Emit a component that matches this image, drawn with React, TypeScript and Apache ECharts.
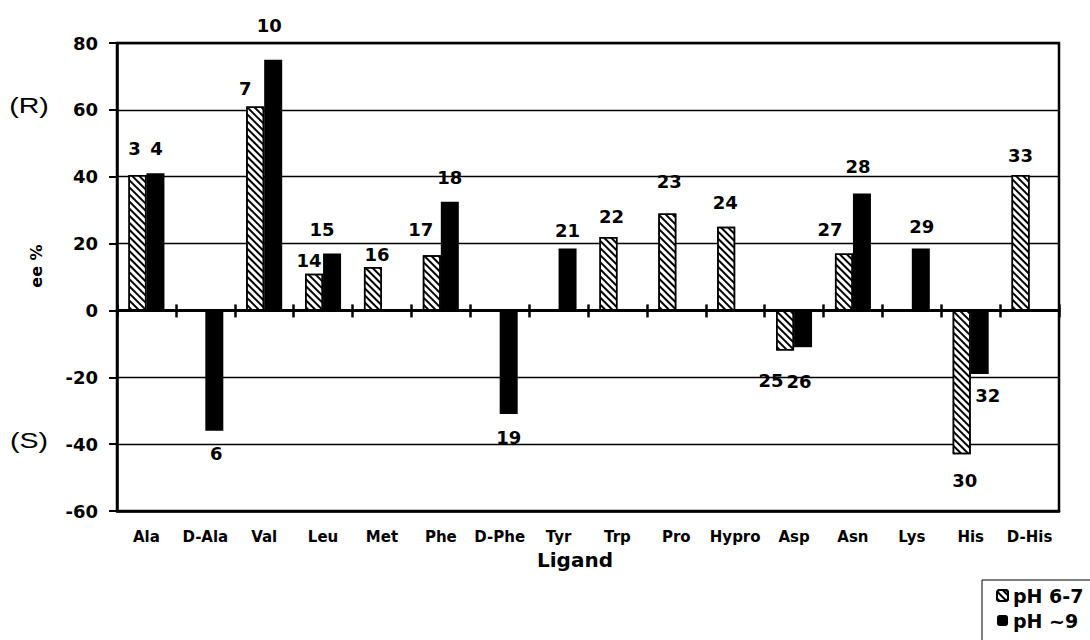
import React, { useEffect, useRef } from "react";
import * as echarts from "echarts";

const categories = ["Ala", "D-Ala", "Val", "Leu", "Met", "Phe", "D-Phe", "Tyr", "Trp", "Pro", "Hypro", "Asp", "Asn", "Lys", "His", "D-His"];
const ph67Values: (number | null)[] = [40.5, null, 61, 11, 13, 16.5, null, null, 22, 29, 25, -12, 17, null, -43, 40.5];
const ph9Values: (number | null)[] = [41, -36, 75, 17, null, 32.5, -31, 18.5, null, null, null, -11, 35, 18.5, -19, null];
const ph67Labels = ["3", "", "7", "14", "16", "17", "", "", "22", "23", "24", "25", "27", "", "30", "33"];
const ph9Labels = ["4", "6", "10", "15", "", "18", "19", "21", "", "", "", "26", "28", "29", "32", ""];
const yTicks = { min: -60, max: 80, interval: 20 };
const seriesNames = ["pH 6-7", "pH ~9"];

// label nudges (style only)
const ph67Offsets: ([number, number] | null)[] = [[-3, -13], null, [-10, -4], [-5, 1], [4, 2], [-11, -12], null, null, [3, -6], [2, -18], [-1, -10], [-14, 16], [-14, -10], null, [3, 12], [0, -6]];
const ph9Offsets: ([number, number] | null)[] = [[1, -11], [2, 9], [-4, -20], [-10, -10], null, [0, -10], [0, 9], [0, -4], null, null, null, [-4, 20], [-4, -13], [1, -8], [8, 8], null];

const BOLD = "'DejaVu Sans', sans-serif";
const ARIAL = "Arial, 'Liberation Sans', sans-serif";

function buildData(values: (number | null)[], labels: string[], offsets: ([number, number] | null)[]) {
  return values.map((v, i) =>
    v == null
      ? null
      : {
          value: v,
          label: {
            show: labels[i] !== "",
            formatter: labels[i],
            position: v >= 0 ? "top" : "bottom",
            offset: offsets[i] || [0, 0],
          },
        }
  );
}

export default function App() {
  const ref = useRef<HTMLDivElement>(null);
  useEffect(() => {
    const chart = echarts.init(ref.current!, null, { renderer: "svg" });
    const labelStyle = { color: "#000", fontFamily: BOLD, fontWeight: "bold", fontSize: 18 };
    const hiddenCat = {
      type: "category",
      data: categories,
      position: "bottom",
      axisLabel: { show: false },
      splitLine: { show: false },
    };
    chart.setOption({
      animation: false,
      backgroundColor: "#fff",
      grid: { left: 117, right: 31, top: 43, bottom: 129, show: true, borderColor: "#000", borderWidth: 2.5 },
      legend: {
        data: seriesNames,
        orient: "vertical",
        left: 984,
        top: 582,
        padding: [4, 4, 2, 12],
        itemWidth: 11,
        itemHeight: 11,
        itemGap: 6,
        textStyle: { color: "#000", fontFamily: BOLD, fontWeight: "bold", fontSize: 19 },
      },
      xAxis: [
        {
          type: "category",
          data: categories,
          position: "bottom",
          axisLine: { onZero: false, lineStyle: { color: "#000", width: 2.5 } },
          axisTick: { show: false },
          axisLabel: { color: "#000", fontFamily: BOLD, fontWeight: "bold", fontSize: 15, margin: 18, interval: 0 },
          splitLine: { show: false },
        },
        {
          ...hiddenCat,
          axisLine: { onZero: true, onZeroAxisIndex: 0, lineStyle: { color: "#000", width: 3 } },
          axisTick: { show: true, length: 7, lineStyle: { color: "#000", width: 2.5 } },
        },
        {
          ...hiddenCat,
          axisLine: { onZero: true, onZeroAxisIndex: 0, lineStyle: { color: "#000", width: 3 } },
          axisTick: { show: true, inside: true, length: 6, lineStyle: { color: "#000", width: 2.5 } },
        },
      ],
      yAxis: {
        type: "value",
        min: yTicks.min,
        max: yTicks.max,
        interval: yTicks.interval,
        axisLine: { show: true, lineStyle: { color: "#000", width: 2.5 } },
        axisTick: { show: true, length: 8, lineStyle: { color: "#000", width: 2 } },
        axisLabel: { color: "#000", fontFamily: BOLD, fontWeight: "bold", fontSize: 18, margin: 19 },
        splitLine: { show: true, lineStyle: { color: "#000", width: 1.3 } },
      },
      series: [
        {
          name: seriesNames[0],
          type: "bar",
          xAxisIndex: 0,
          barWidth: 18,
          barGap: "0%",
          data: buildData(ph67Values, ph67Labels, ph67Offsets),
          itemStyle: {
            color: "#fff",
            borderColor: "#000",
            borderWidth: 1.5,
            decal: {
              symbol: "rect",
              symbolSize: 1,
              color: "#000",
              dashArrayX: [1, 0],
              dashArrayY: [2, 3],
              rotation: Math.PI / 4,
            },
          },
          label: labelStyle,
        },
        {
          name: seriesNames[1],
          type: "bar",
          xAxisIndex: 0,
          barWidth: 18,
          barGap: "0%",
          data: buildData(ph9Values, ph9Labels, ph9Offsets),
          itemStyle: { color: "#000" },
          label: labelStyle,
        },
      ],
      graphic: [
        { type: "rect", shape: { x: 982, y: 580, width: 130, height: 80 }, style: { fill: "none", stroke: "#000", lineWidth: 1 }, silent: true },
        { type: "text", x: 29, y: 105, style: { text: "(R)", fontFamily: ARIAL, fontSize: 22, fill: "#000", align: "center", verticalAlign: "middle" }, scaleX: 1.3 },
        { type: "text", x: 29, y: 440, style: { text: "(S)", fontFamily: ARIAL, fontSize: 22, fill: "#000", align: "center", verticalAlign: "middle" }, scaleX: 1.3 },
        { type: "text", x: 36, y: 266, rotation: Math.PI / 2, style: { text: "ee %", fontFamily: BOLD, fontWeight: "bold", fontSize: 16, fill: "#000", align: "center", verticalAlign: "middle" } },
        { type: "text", x: 575, y: 560, style: { text: "Ligand", fontFamily: BOLD, fontWeight: "bold", fontSize: 20, fill: "#000", align: "center", verticalAlign: "middle" } },
      ],
    });
    return () => chart.dispose();
  }, []);
  return <div ref={ref} style={{ width: 1090, height: 640, position: "absolute", left: 0, top: 0 }} />;
}
